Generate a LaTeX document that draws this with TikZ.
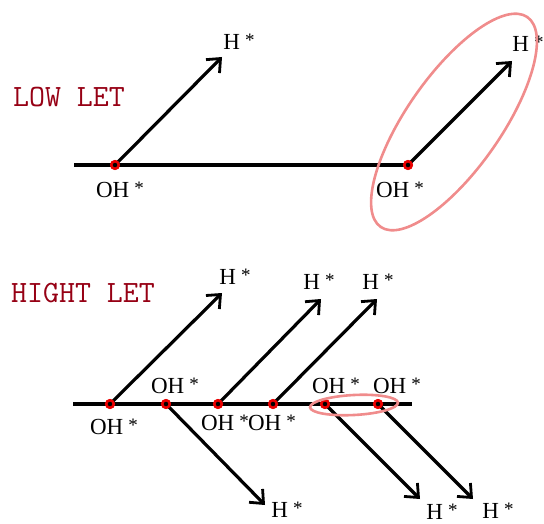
\documentclass[tikz,border=0pt]{standalone}
\usepackage{fontspec}
\setmainfont{Liberation Serif}
\usetikzlibrary{arrows.meta}
\definecolor{letred}{RGB}{150,0,20}
\definecolor{ringpink}{RGB}{240,140,140}
\definecolor{dotred}{RGB}{235,0,0}
\begin{document}
\begin{tikzpicture}[x=1pt,y=-1pt,
  base/.style={line width=3.2pt, black},
  arr/.style={line width=3.2pt, black, -{Straight Barb[length=11pt,width=19pt,line width=2.8pt]}},
  dot/.style={circle, draw=dotred, fill=black, line width=2.4pt, inner sep=0pt, minimum size=7.5pt},
  lbl/.style={font=\fontsize{23}{23}\selectfont, inner sep=0pt},
  ttl/.style={font=\ttfamily\fontsize{31}{31}\selectfont, text=letred, inner sep=0pt},
  ring/.style={draw=ringpink, line width=2.6pt}]
\useasboundingbox (0,0) rectangle (544,524);
\newcommand{\Str}{\hspace{0.22em}\raisebox{0.12em}{\fontsize{19}{19}\selectfont *}}
\newcommand{\Hs}{H\Str}
\newcommand{\OHs}{OH\Str}
% ---------- LOW LET ----------
\node[ttl] (lowlet) at (69,97) {LOW LET};
\coordinate (la) at (74,165);
\coordinate (lb) at (410,165);
\draw[base] (la) -- (lb);
\coordinate (t1) at (222,57);
\coordinate (t2) at (512,61);
\node[dot] (d1) at (115,165) {};
\node[dot] (d2) at (408,165) {};
\draw[arr] (d1.center) -- (t1);
\draw[arr] (d2.center) -- (t2);
\node[dot] at (d1) {};
\node[dot] at (d2) {};
\node[lbl] (h1) at (239,42) {\Hs};
\node[lbl] (h2) at (528,44) {\Hs};
\node[lbl] (o1) at (120,190) {\OHs};
\node[lbl] (o2) at (400,190) {\OHs};
\draw[ring, rotate around={55:(454,122)}] (454,122) ellipse [x radius=128, y radius=47];
% ---------- HIGHT LET ----------
\node[ttl] (highlet) at (83,293) {HIGHT LET};
\coordinate (ba) at (73,404);
\coordinate (bb) at (412,404);
\draw[base] (ba) -- (bb);
\node[dot] (e1) at (110,404) {};
\node[dot] (e2) at (166,404) {};
\node[dot] (e3) at (218,404) {};
\node[dot] (e4) at (273,404) {};
\node[dot] (e5) at (325,404) {};
\node[dot] (e6) at (378,404) {};
\coordinate (u1) at (222,293);
\coordinate (u3) at (321,299);
\coordinate (u4) at (377,299);
\coordinate (w2) at (265,505);
\coordinate (w5) at (420,499);
\coordinate (w6) at (473,499);
\draw[arr] (e1.center) -- (u1);
\draw[arr] (e3.center) -- (u3);
\draw[arr] (e4.center) -- (u4);
\draw[arr] (e2.center) -- (w2);
\draw[arr] (e5.center) -- (w5);
\draw[arr] (e6.center) -- (w6);
\foreach \n in {e1,e2,e3,e4,e5,e6} {\node[dot] at (\n) {};}
\node[lbl] (hu1) at (235,277) {\Hs};
\node[lbl] (hu3) at (319,282) {\Hs};
\node[lbl] (hu4) at (378,282) {\Hs};
\node[lbl] (hw2) at (287,510) {\Hs};
\node[lbl] (hw5) at (442,512) {\Hs};
\node[lbl] (hw6) at (498,511) {\Hs};
\node[lbl] (oe1) at (114,427) {\OHs};
\node[lbl] (oe2) at (175,386) {\OHs};
\node[lbl] (oe3) at (225,423) {\OHs};
\node[lbl] (oe4) at (272,423) {\OHs};
\node[lbl] (oe5) at (336,386) {\OHs};
\node[lbl] (oe6) at (397,386) {\OHs};
\draw[ring, rotate around={3:(354,405)}] (354,405) ellipse [x radius=44, y radius=10];
\end{tikzpicture}
\end{document}
